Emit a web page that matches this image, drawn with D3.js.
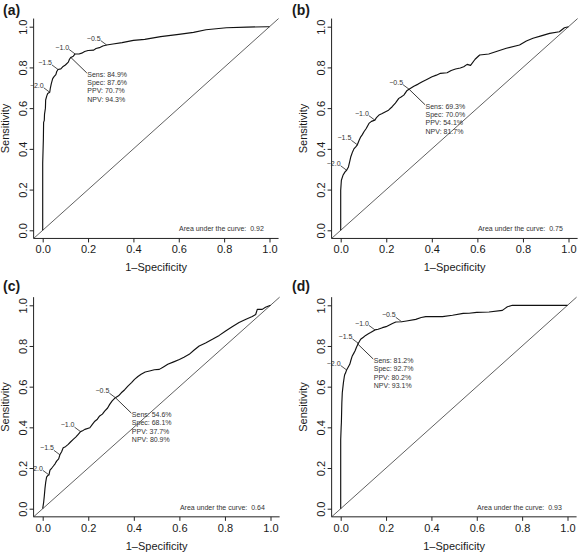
<!DOCTYPE html>
<html><head><meta charset="utf-8">
<script src="https://cdn.jsdelivr.net/npm/d3@7"></script>
<style>
body{margin:0;background:#fff}
svg{display:block}
text{font-family:"Liberation Sans",Arial,Helvetica,sans-serif;fill:#1a1a1a}
.small{fill:#333}
</style></head><body>
<svg id="chart" width="579" height="552"></svg>
<script>
// ---------- data ----------
const panelIds = ["(a)", "(b)", "(c)", "(d)"];
const tickValues = [0, 0.2, 0.4, 0.6, 0.8, 1.0];
const tickLabels = ["0.0", "0.2", "0.4", "0.6", "0.8", "1.0"];
const xTitle = "1–Specificity";
const yTitle = "Sensitivity";
const thresholdLabels = ["−0.5", "−1.0", "−1.5", "−2.0"];
const aucValues = ["0.92", "0.75", "0.64", "0.93"];

const curveA = [[0,0],[0,0.33],[0.003,0.45],[0.004,0.53],[0.007,0.54],[0.008,0.57],[0.012,0.6],[0.013,0.64],[0.018,0.66],[0.022,0.672],[0.031,0.678],[0.034,0.70],[0.038,0.72],[0.044,0.745],[0.05,0.755],[0.058,0.765],[0.062,0.78],[0.0675,0.79],[0.08,0.793],[0.09,0.805],[0.1,0.812],[0.113,0.826],[0.118,0.84],[0.124,0.849],[0.135,0.855],[0.143,0.866],[0.16,0.866],[0.172,0.87],[0.185,0.878],[0.2,0.883],[0.225,0.885],[0.235,0.893],[0.25,0.897],[0.265,0.905],[0.282,0.91],[0.31,0.915],[0.35,0.922],[0.4,0.933],[0.45,0.938],[0.52,0.951],[0.6,0.962],[0.665,0.972],[0.72,0.985],[0.81,0.995],[0.9,0.998],[0.99,1],[1,1]];
const curveB = [[0,0],[0,0.197],[0.002,0.23],[0.003,0.246],[0.01,0.27],[0.019,0.287],[0.026,0.295],[0.034,0.311],[0.04,0.34],[0.044,0.36],[0.052,0.385],[0.058,0.40],[0.066,0.41],[0.073,0.42],[0.08,0.44],[0.088,0.459],[0.095,0.47],[0.102,0.484],[0.112,0.5],[0.124,0.525],[0.135,0.535],[0.15,0.541],[0.158,0.555],[0.168,0.566],[0.18,0.572],[0.197,0.582],[0.21,0.59],[0.226,0.607],[0.24,0.625],[0.255,0.648],[0.265,0.655],[0.277,0.664],[0.29,0.685],[0.30,0.693],[0.321,0.708],[0.34,0.718],[0.358,0.730],[0.38,0.742],[0.401,0.754],[0.42,0.762],[0.438,0.771],[0.467,0.774],[0.485,0.785],[0.504,0.792],[0.525,0.797],[0.54,0.803],[0.555,0.815],[0.57,0.81],[0.59,0.84],[0.61,0.861],[0.65,0.866],[0.68,0.877],[0.727,0.894],[0.785,0.91],[0.815,0.93],[0.844,0.943],[0.88,0.955],[0.917,0.967],[0.96,0.975],[0.982,0.995],[1,1]];
const curveC = [[0,0],[0.004,0.03],[0.007,0.062],[0.01,0.1],[0.013,0.128],[0.017,0.155],[0.022,0.163],[0.0275,0.166],[0.032,0.19],[0.04,0.2],[0.047,0.21],[0.055,0.222],[0.061,0.234],[0.07,0.245],[0.0755,0.265],[0.083,0.28],[0.09,0.3],[0.1,0.305],[0.112,0.316],[0.122,0.328],[0.134,0.341],[0.145,0.352],[0.156,0.366],[0.166,0.379],[0.175,0.383],[0.185,0.39],[0.207,0.398],[0.218,0.415],[0.229,0.43],[0.24,0.44],[0.25,0.456],[0.262,0.465],[0.272,0.48],[0.285,0.495],[0.294,0.513],[0.305,0.53],[0.319,0.546],[0.333,0.555],[0.345,0.57],[0.36,0.585],[0.374,0.603],[0.39,0.62],[0.403,0.636],[0.418,0.65],[0.432,0.661],[0.45,0.672],[0.469,0.677],[0.49,0.683],[0.512,0.685],[0.53,0.697],[0.549,0.71],[0.575,0.722],[0.6,0.734],[0.62,0.745],[0.643,0.759],[0.665,0.78],[0.687,0.8],[0.715,0.815],[0.745,0.833],[0.775,0.852],[0.803,0.874],[0.83,0.893],[0.862,0.915],[0.89,0.93],[0.92,0.945],[0.935,0.955],[0.942,0.98],[0.964,0.98],[0.978,0.99],[1,1]];
const curveD = [[0,0],[0,0.34],[0.002,0.4],[0.003,0.423],[0.005,0.52],[0.007,0.57],[0.01,0.6],[0.012,0.62],[0.016,0.65],[0.018,0.66],[0.022,0.669],[0.026,0.682],[0.034,0.698],[0.04,0.71],[0.044,0.726],[0.051,0.751],[0.058,0.765],[0.063,0.775],[0.07,0.795],[0.078,0.813],[0.088,0.833],[0.1,0.843],[0.11,0.852],[0.122,0.86],[0.132,0.866],[0.151,0.879],[0.165,0.882],[0.184,0.89],[0.2,0.895],[0.213,0.902],[0.228,0.91],[0.243,0.918],[0.269,0.919],[0.29,0.923],[0.331,0.931],[0.355,0.94],[0.375,0.944],[0.449,0.944],[0.493,0.951],[0.54,0.96],[0.566,0.961],[0.6,0.965],[0.654,0.967],[0.713,0.975],[0.725,0.985],[0.735,0.993],[0.757,1.0],[1,1]];

const thresholdsA = [[0.282,0.91],[0.143,0.866],[0.0675,0.79],[0.031,0.678]];
const thresholdsB = [[0.30,0.693],[0.15,0.541],[0.073,0.42],[0.026,0.295]];
const thresholdsC = [[0.319,0.546],[0.166,0.379],[0.0755,0.265],[0.0275,0.166]];
const thresholdsD = [[0.269,0.919],[0.151,0.879],[0.078,0.813],[0.026,0.682]];

const cutA = [0.124, 0.849];
const cutB = [0.300, 0.693];
const cutC = [0.319, 0.546];
const cutD = [0.073, 0.812];

const statsA = ["Sens: 84.9%", "Spec: 87.6%", "PPV: 70.7%", "NPV: 94.3%"];
const statsB = ["Sens: 69.3%", "Spec: 70.0%", "PPV: 54.1%", "NPV: 81.7%"];
const statsC = ["Sens: 54.6%", "Spec: 68.1%", "PPV: 37.7%", "NPV: 80.9%"];
const statsD = ["Sens: 81.2%", "Spec: 92.7%", "PPV: 80.2%", "NPV: 93.1%"];

// ---------- layout ----------
const frames = [
  {x0:42.7, x1:269.5, y0:230.3, y1:26.7, tx:3,   ty:15},
  {x0:340.7,x1:568.5, y0:230.3, y1:26.7, tx:292, ty:15},
  {x0:42.7, x1:270.5, y0:508.7, y1:305.3, tx:3,  ty:291},
  {x0:340.7,x1:567.5, y0:508.7, y1:305.3, tx:292,ty:291}
];
const curves = [curveA, curveB, curveC, curveD];
const thresholds = [thresholdsA, thresholdsB, thresholdsC, thresholdsD];
const cuts = [cutA, cutB, cutC, cutD];
const stats = [statsA, statsB, statsC, statsD];

const svg = d3.select("#chart");

frames.forEach((f, i) => {
  const w = f.x1 - f.x0, h = f.y0 - f.y1;
  const x = d3.scaleLinear().domain([-0.04, 1.04]).range([f.x0 - 0.04*w, f.x1 + 0.04*w]);
  const y = d3.scaleLinear().domain([-0.04, 1.04]).range([f.y0 + 0.04*h, f.y1 - 0.04*h]);
  const g = svg.append("g");
  const left = x(-0.04), right = x(1.04), bottom = y(-0.04), top = y(1.04);

  // diagonal reference line
  g.append("line").attr("x1", x(-0.04)).attr("y1", y(-0.04)).attr("x2", x(1.04)).attr("y2", y(1.04))
    .attr("stroke", "#444").attr("stroke-width", 0.85);

  // L-shaped box
  g.append("path").attr("d", `M${left},${top}V${bottom}H${right}`)
    .attr("fill", "none").attr("stroke", "#222").attr("stroke-width", 1);

  // x axis
  const xa = g.append("g").attr("transform", `translate(0,${bottom})`)
    .call(d3.axisBottom(x).tickValues(tickValues).tickFormat((d, k) => tickLabels[k]).tickSize(4).tickPadding(3));
  xa.select(".domain").remove();
  xa.selectAll("line").attr("stroke", "#222");
  xa.selectAll("text").attr("font-size", 11).attr("fill", "#222")
    .attr("font-family", '"Liberation Sans",Arial,sans-serif');

  // y axis
  const ya = g.append("g").attr("transform", `translate(${left},0)`)
    .call(d3.axisLeft(y).tickValues(tickValues).tickFormat((d, k) => tickLabels[k]).tickSize(4));
  ya.select(".domain").remove();
  ya.selectAll("line").attr("stroke", "#222");
  ya.selectAll("text").remove();
  ya.selectAll(".tick").append("text")
    .attr("transform", "translate(-10.7,0) rotate(-90)")
    .attr("text-anchor", "middle").attr("dy", "0.35em")
    .attr("font-size", 11).attr("fill", "#222")
    .attr("font-family", '"Liberation Sans",Arial,sans-serif')
    .text((d, k) => tickLabels[k]);

  // axis titles
  g.append("text").attr("x", (left + right) / 2).attr("y", bottom + 33)
    .attr("text-anchor", "middle").attr("font-size", 11).text(xTitle);
  g.append("text").attr("transform", `translate(${left - 28},${(top + bottom) / 2}) rotate(-90)`)
    .attr("text-anchor", "middle").attr("dy", "0.35em").attr("font-size", 11).text(yTitle);

  // panel id
  g.append("text").attr("x", f.tx).attr("y", f.ty).attr("font-size", 14).attr("font-weight", "bold").text(panelIds[i]);

  // ROC curve
  g.append("path").datum(curves[i])
    .attr("d", d3.line().x(d => x(d[0])).y(d => y(d[1])))
    .attr("fill", "none").attr("stroke", "#111").attr("stroke-width", 1.15).attr("stroke-linejoin", "round");

  // threshold labels
  thresholds[i].forEach((p, k) => {
    const px = x(p[0]), py = y(p[1]);
    g.append("line").attr("x1", px - 6).attr("y1", py - 4.5).attr("x2", px).attr("y2", py)
      .attr("stroke", "#222").attr("stroke-width", 0.8);
    g.append("text").attr("class", "small").attr("x", px - 6).attr("y", py - 6.8).attr("dy", "0.35em")
      .attr("text-anchor", "end").attr("font-size", 7).text(thresholdLabels[k]);
  });

  // optimal cut annotation
  const cx = x(cuts[i][0]), cy = y(cuts[i][1]);
  g.append("line").attr("x1", cx).attr("y1", cy).attr("x2", cx + 16).attr("y2", cy + 15.5)
    .attr("stroke", "#222").attr("stroke-width", 0.9);
  stats[i].forEach((s, k) => {
    g.append("text").attr("class", "small").attr("x", cx + 16.5).attr("y", cy + 17 + k * 8.3).attr("dy", "0.35em")
      .attr("font-size", 7).text(s);
  });

  // AUC
  g.append("text").attr("class", "small").attr("x", x(0.975)).attr("y", y(0.008)).attr("dy", "0.35em")
    .attr("text-anchor", "end").attr("font-size", 7).attr("xml:space", "preserve")
    .text("Area under the curve:  " + aucValues[i]);
});
</script>
</body></html>
